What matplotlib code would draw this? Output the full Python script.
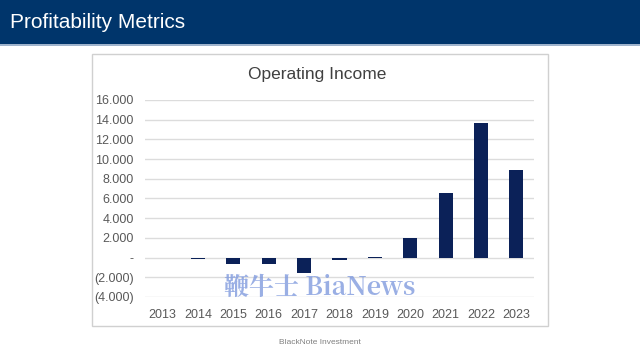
import matplotlib
matplotlib.use("Agg")
import matplotlib.pyplot as plt
from matplotlib.patches import Rectangle
from matplotlib.ticker import FixedLocator, FuncFormatter

years = ["2013", "2014", "2015", "2016", "2017", "2018", "2019", "2020", "2021", "2022", "2023"]
operating_income = [-50, -100, -680, -610, -1590, -240, 30, 1960, 6520, 13680, 8880]
yticks = [-4000, -2000, 0, 2000, 4000, 6000, 8000, 10000, 12000, 14000, 16000]

W, H = 640, 360
fig = plt.figure(figsize=(6.4, 3.6), dpi=100)
fig.patch.set_facecolor("white")

def fx(px):
    return px / W

def fy(py):
    return 1 - py / H

# header band
fig.patches.append(Rectangle((0, fy(44)), 1, 44 / H, transform=fig.transFigure,
                             facecolor="#00356b", edgecolor="none", zorder=-2))
fig.patches.append(Rectangle((0, fy(46)), 1, 2 / H, transform=fig.transFigure,
                             facecolor="#9fb3cc", edgecolor="none", zorder=-2))
fig.text(fx(10), fy(22), "Profitability Metrics", color="white", fontsize=15,
         family="Liberation Sans", va="center", ha="left")

# chart box
fig.patches.append(Rectangle((fx(92), fy(326)), (548 - 92) / W, (326 - 54) / H,
                             transform=fig.transFigure, facecolor="white",
                             edgecolor="#d0d0d0", linewidth=1, zorder=-2))

ax = fig.add_axes([fx(145), fy(297), (534 - 145) / W, (297 - 100) / H])
ax.set_facecolor("none")
x = list(range(len(years)))
ax.bar(x, operating_income, width=0.4, color="#0b2158", zorder=3)
ax.set_xlim(-0.5, len(years) - 0.5)
ax.set_ylim(-4000, 16000)
ax.yaxis.set_major_locator(FixedLocator(yticks))

def fmt(v, pos):
    if v == 0:
        return "-"
    s = f"{abs(v):,.0f}".replace(",", ".")
    return f"({s})" if v < 0 else s

ax.yaxis.set_major_formatter(FuncFormatter(fmt))
ax.set_xticks(x)
ax.set_xticklabels(years)
ax.grid(axis="y", color="#dcdcdc", linewidth=1, zorder=0)
for s in ax.spines.values():
    s.set_visible(False)
ax.tick_params(axis="both", length=0, labelsize=9, colors="#595959")
ax.tick_params(axis="y", pad=8)
ax.tick_params(axis="x", pad=9)
for lab in ax.get_xticklabels() + ax.get_yticklabels():
    lab.set_family("Liberation Sans")

fig.text(fx(317), fy(75), "Operating Income", fontsize=12.5, color="#404040",
         family="Liberation Sans", ha="center", va="center")

# watermark
fig.text(fx(320), fy(288), "鞭牛士 BiaNews", fontsize=18, color="#7894dc", alpha=0.75,
         family=["Noto Serif CJK SC", "Noto Sans CJK SC", "DejaVu Serif"],
         fontweight="bold", ha="center", va="center", zorder=10)

fig.text(fx(320), fy(343), "BlackNote Investment", fontsize=6, color="#808080",
         family="Liberation Sans", ha="center", va="center")

fig.savefig("out.png", dpi=100)
